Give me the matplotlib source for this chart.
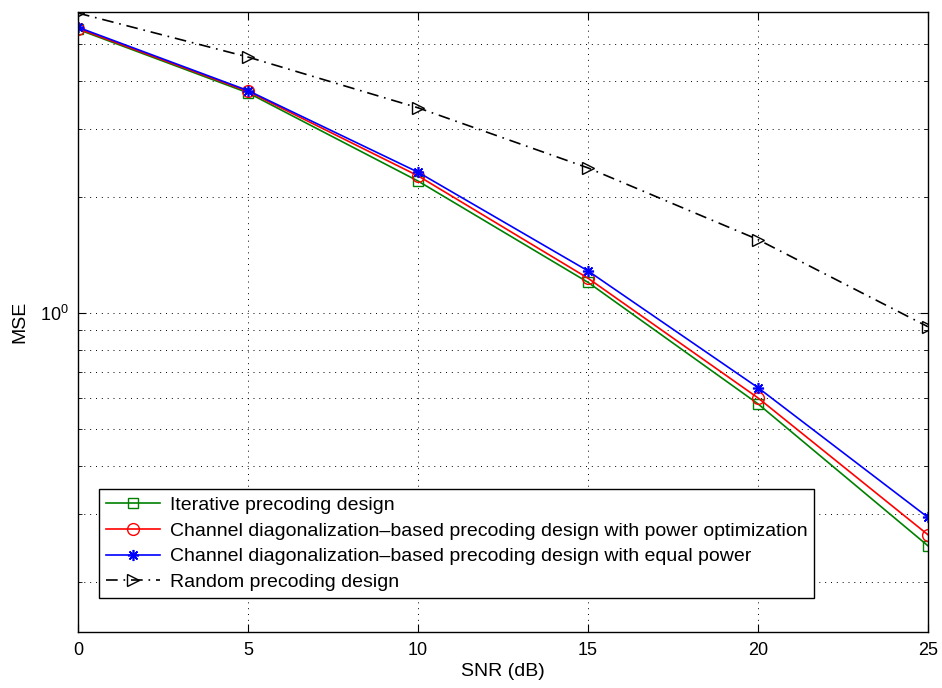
import matplotlib
matplotlib.use('Agg')
import matplotlib.pyplot as plt
from matplotlib.ticker import FixedLocator, NullFormatter, LogFormatterMathtext

plt.rcParams['font.family'] = ['Liberation Sans', 'DejaVu Sans']
plt.rcParams['mathtext.fontset'] = 'custom'
plt.rcParams['mathtext.rm'] = 'Liberation Sans'

# data
snr = [0, 5, 10, 15, 20, 25]
mse_iter = [5.45, 3.73, 2.20, 1.20, 0.580, 0.248]
mse_cd_opt = [5.48, 3.76, 2.27, 1.23, 0.601, 0.265]
mse_cd_eq = [5.52, 3.78, 2.32, 1.285, 0.639, 0.294]
mse_rand = [6.01, 4.62, 3.41, 2.38, 1.55, 0.92]

labels = ['Iterative precoding design',
          'Channel diagonalization\u2013based precoding design with power optimization',
          'Channel diagonalization\u2013based precoding design with equal power',
          'Random precoding design']

fig = plt.figure(figsize=(9.42, 6.88), dpi=100)
ax = fig.add_axes([0.0828, 0.0814, 0.9022, 0.9012])

ax.plot(snr, mse_iter, color=(0, 0.5, 0), marker='s', mfc='none', ms=7, lw=1.2, label=labels[0])
ax.plot(snr, mse_cd_opt, color='r', marker='o', mfc='none', ms=8.5, lw=1.2, label=labels[1])
ax.plot(snr, mse_cd_eq, color='b', marker=(8, 2, 0), ms=8, mew=1.2, lw=1.2, label=labels[2])
ax.plot(snr, mse_rand, color='k', marker='>', mfc='none', ms=9, lw=1.2,
        dashes=(7, 3.5, 1, 3.5), label=labels[3])

ax.set_yscale('log')
ax.set_xlim(0, 25)
ax.set_ylim(0.148, 6.05)
ax.set_xticks(snr)
ax.yaxis.set_major_locator(FixedLocator([1.0]))
ax.yaxis.set_major_formatter(LogFormatterMathtext())
ax.yaxis.set_minor_locator(FixedLocator([0.2, 0.3, 0.4, 0.5, 0.6, 0.7, 0.8, 0.9, 2, 3, 4, 5]))
ax.yaxis.set_minor_formatter(NullFormatter())

ax.grid(True, which='both', axis='y', color='k', linestyle=(0, (1, 5)), lw=0.7)
ax.grid(True, which='major', axis='x', color='k', linestyle=(0, (1, 5)), lw=0.7)
ax.tick_params(which='both', direction='in', top=True, right=True, labelsize=13)
ax.tick_params(which='major', length=6, pad=7)
ax.tick_params(which='minor', length=3)
for s in ax.spines.values():
    s.set_linewidth(1.0)

ax.set_xlabel('SNR (dB)', fontsize=14, labelpad=3)
ax.set_ylabel('MSE', fontsize=14, labelpad=8)

leg = ax.legend(loc='lower left', bbox_to_anchor=(0.0247, 0.055), fontsize=14,
                fancybox=False, framealpha=1, edgecolor='k', handlelength=2.8,
                borderpad=0.35, labelspacing=0.42, handletextpad=0.5, borderaxespad=0)
leg.get_frame().set_linewidth(1.0)

fig.savefig('out.png', dpi=100)
